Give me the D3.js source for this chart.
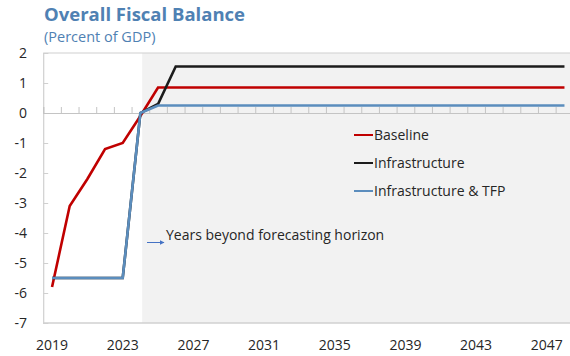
<!DOCTYPE html>
<html>
<head>
<meta charset="utf-8">
<script src="https://cdn.jsdelivr.net/npm/d3@7"></script>
<style>
  html, body { margin: 0; padding: 0; background: #fff; }
  svg { display: block; font-family: "Open Sans", "Noto Sans", sans-serif; }
</style>
</head>
<body>
<svg id="chart" width="570" height="356"></svg>
<script>
// ---- data ----
const years = d3.range(2019, 2049);
const baseline = [-5.8, -3.1, -2.2, -1.2, -1.0, -0.1, 0.85, 0.85, 0.85, 0.85, 0.85, 0.85, 0.85, 0.85, 0.85,
                  0.85, 0.85, 0.85, 0.85, 0.85, 0.85, 0.85, 0.85, 0.85, 0.85, 0.85, 0.85, 0.85, 0.85, 0.85];
const infrastructure = [-5.5, -5.5, -5.5, -5.5, -5.5, 0.0, 0.3, 1.55, 1.55, 1.55, 1.55, 1.55, 1.55, 1.55, 1.55,
                  1.55, 1.55, 1.55, 1.55, 1.55, 1.55, 1.55, 1.55, 1.55, 1.55, 1.55, 1.55, 1.55, 1.55, 1.55];
const infraTFP = [-5.5, -5.5, -5.5, -5.5, -5.5, 0.0, 0.25, 0.25, 0.25, 0.25, 0.25, 0.25, 0.25, 0.25, 0.25,
                  0.25, 0.25, 0.25, 0.25, 0.25, 0.25, 0.25, 0.25, 0.25, 0.25, 0.25, 0.25, 0.25, 0.25, 0.25];
const xTickLabels = [2019, 2023, 2027, 2031, 2035, 2039, 2043, 2047];
const yTicks = [2, 1, 0, -1, -2, -3, -4, -5, -6, -7];
const seriesNames = ["Baseline", "Infrastructure", "Infrastructure & TFP"];
const forecastStart = 2024.1;
const titleText = "Overall Fiscal Balance";
const subtitleText = "(Percent of GDP)";
const annotationText = "Years beyond forecasting horizon";

// ---- layout ----
const svg = d3.select("#chart");
const mLeft = 43.2, mTop = 53, mBottom = 323;
const band = 17.67;
const mRight = mLeft + band * years.length;
const colors = ["#c00000", "#1c1c1c", "#5b8dbd"];
const series = [baseline, infrastructure, infraTFP];

const x = d3.scaleLinear().domain([years[0] - 0.5, years[years.length - 1] + 0.5]).range([mLeft, mRight]);
const y = d3.scaleLinear().domain([-7, 2]).range([mBottom, mTop]);

// shaded forecast region
svg.append("rect")
  .attr("x", x(forecastStart)).attr("y", y(2))
  .attr("width", x(years[years.length - 1] + 0.5) - x(forecastStart))
  .attr("height", y(-7) - y(2))
  .attr("fill", "#f2f2f2");

// frame (top, bottom)
const frameColor = "#d0d0d0";
svg.append("line").attr("x1", mLeft).attr("x2", mRight).attr("y1", y(2)).attr("y2", y(2))
  .attr("stroke", frameColor).attr("stroke-width", 1.2);
svg.append("line").attr("x1", mLeft).attr("x2", mRight).attr("y1", y(-7)).attr("y2", y(-7))
  .attr("stroke", frameColor).attr("stroke-width", 1.6);

// y axis
const yAxis = d3.axisRight(y).tickValues(yTicks).tickSize(5).tickFormat(() => "");
const gy = svg.append("g").attr("transform", `translate(${mLeft},0)`).call(yAxis);
gy.select(".domain").attr("stroke", frameColor).attr("stroke-width", 1.2);
gy.selectAll(".tick line").attr("stroke", frameColor).attr("stroke-width", 1);
svg.append("g").selectAll("text").data(yTicks).join("text")
  .attr("x", 27).attr("y", d => y(d)).attr("dy", "0.36em")
  .attr("text-anchor", "end").attr("font-size", 14).attr("fill", "#262626")
  .text(d => String(d));

// zero axis with category ticks
const gx = svg.append("g").attr("transform", `translate(0,${y(0)})`)
  .call(d3.axisTop(x).tickValues(d3.range(years[0] - 0.5, years[years.length - 1] + 0.5, 1)).tickSize(6).tickFormat(() => ""));
gx.select(".domain").attr("stroke", "#c4c4c4").attr("stroke-width", 1.2);
gx.selectAll(".tick line").attr("stroke", "#c4c4c4").attr("stroke-width", 1);

// x tick labels
svg.append("g").selectAll("text").data(xTickLabels).join("text")
  .attr("x", d => x(d)).attr("y", 350)
  .attr("text-anchor", "middle").attr("font-size", 14).attr("fill", "#262626")
  .text(d => d);

// lines
const line = d3.line().x((d, i) => x(years[i])).y(d => y(d));
series.forEach((s, k) => {
  svg.append("path").datum(s).attr("d", line)
    .attr("fill", "none").attr("stroke", colors[k]).attr("stroke-width", 2.6)
    .attr("stroke-linejoin", "miter");
});

// legend
const lg = svg.append("g");
seriesNames.forEach((n, k) => {
  const ly = 135 + k * 28;
  lg.append("line").attr("x1", 354).attr("x2", 373).attr("y1", ly).attr("y2", ly)
    .attr("stroke", colors[k]).attr("stroke-width", 2);
  lg.append("text").attr("x", 374).attr("y", ly).attr("dy", "0.35em")
    .attr("font-size", 14).attr("fill", "#262626").text(n);
});

// annotation arrow
svg.append("defs").append("marker").attr("id", "arr").attr("viewBox", "0 0 10 10")
  .attr("refX", 9).attr("refY", 5).attr("markerWidth", 5).attr("markerHeight", 5).attr("orient", "auto")
  .append("path").attr("d", "M0,0L10,5L0,10z").attr("fill", "#4472c4");
svg.append("line").attr("x1", 147).attr("x2", 164).attr("y1", 242.5).attr("y2", 242.5)
  .attr("stroke", "#4472c4").attr("stroke-width", 1).attr("marker-end", "url(#arr)");
svg.append("text").attr("x", 166).attr("y", 240).attr("font-size", 14).attr("fill", "#262626").text(annotationText);

// titles
svg.append("text").attr("x", 44).attr("y", 21).attr("font-size", 18.5).attr("font-weight", "bold")
  .attr("fill", "#4f81b3").text(titleText);
svg.append("text").attr("x", 44).attr("y", 42).attr("font-size", 14.5)
  .attr("fill", "#4f81b3").text(subtitleText);
</script>
</body>
</html>
